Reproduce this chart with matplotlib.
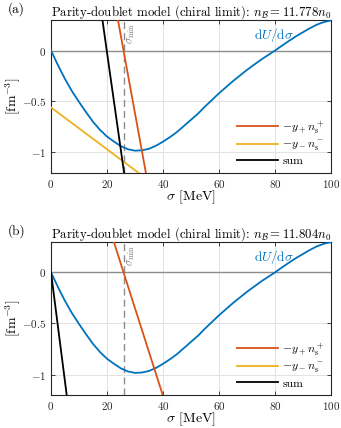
import numpy as np
import matplotlib
matplotlib.use('Agg')
import matplotlib.pyplot as plt

plt.rcParams['font.family'] = 'serif'
plt.rcParams['font.serif'] = ['cmr10']
plt.rcParams['mathtext.fontset'] = 'cm'
plt.rcParams['axes.formatter.use_mathtext'] = True
plt.rcParams['font.size'] = 9

# dU/dsigma, same curve in both panels
sigma_u = [0, 2.5, 5, 7.5, 10, 12.5, 15, 17.5, 20, 22.5, 25, 27.5, 30, 32.5, 35, 37.5,
           40, 42.5, 45, 47.5, 50, 52.5, 55, 57.5, 60, 62.5, 65, 67.5, 70, 72.5, 75,
           77.5, 80, 82.5, 85, 87.5, 90, 92.5, 95, 97.5, 100]
dU = [0, -0.145, -0.28, -0.40, -0.505, -0.605, -0.70, -0.78, -0.845, -0.895, -0.94,
      -0.97, -0.984, -0.98, -0.965, -0.935, -0.895, -0.85, -0.80, -0.74, -0.68,
      -0.62, -0.55, -0.485, -0.42, -0.36, -0.30, -0.245, -0.19, -0.14, -0.09,
      -0.045, 0.0, 0.048, 0.095, 0.14, 0.18, 0.22, 0.255, 0.28, 0.295]

# panel (a), nB = 11.778 n0
sig_plus_a = [22.0, 25.9, 36.0]
yplus_a = [0.59, 0.0, -1.52]
sig_minus_a = [0.0, 30.7, 35.0]
yminus_a = [-0.559, -1.19, -1.28]
sig_sum_a = [17.0, 19.9, 28.0]
sum_a = [0.57, 0.0, -1.57]

# panel (b), nB = 11.804 n0
sig_plus_b = [20.0, 25.9, 42.0]
yplus_b = [0.51, 0.0, -1.38]
sig_minus_b = [0.0, 100.0]
yminus_b = [-2.22, -15.0]
sig_sum_b = [0.0, 5.6, 7.0]
sum_b = [0.0, -1.2, -1.5]

sigma_min = 26.0
titles = [r'Parity-doublet model (chiral limit): $n_\mathcal{B} = 11.778n_0$',
          r'Parity-doublet model (chiral limit): $n_\mathcal{B} = 11.804n_0$']
tags = ['(a)', '(b)']
tag_y = [0.978, 0.461]

blue = '#0072BD'
orange = '#D95319'
yellow = '#EDB120'

fig = plt.figure(figsize=(3.41, 4.28), dpi=100)
positions = [[0.1496, 0.5965, 0.8211, 0.3568], [0.1496, 0.0771, 0.8211, 0.3582]]
panels = [(sig_plus_a, yplus_a, sig_minus_a, yminus_a, sig_sum_a, sum_a),
          (sig_plus_b, yplus_b, sig_minus_b, yminus_b, sig_sum_b, sum_b)]

for i, pos in enumerate(positions):
    ax = fig.add_axes(pos)
    sp, yp, sm, ym, ss, ys = panels[i]
    ax.axhline(0, color='#8c8c8c', lw=1.0, zorder=1)
    ax.axvline(sigma_min, color='#8c8c8c', lw=1.0, ls=(0, (5, 3)), zorder=1)
    ax.text(sigma_min + 0.6, 0.27, r'$\sigma_\mathrm{min}$', rotation=90, color='#7f7f7f',
            ha='left', va='top', fontsize=8)
    ax.plot(sigma_u, dU, color=blue, lw=1.3, zorder=3)
    l1, = ax.plot(sp, yp, color=orange, lw=1.3, zorder=3)
    l2, = ax.plot(sm, ym, color=yellow, lw=1.3, zorder=3)
    l3, = ax.plot(ss, ys, color='black', lw=1.3, zorder=4)
    ax.text(79.6, 0.15, r'$\mathrm{d}U/\mathrm{d}\sigma$', color=blue, ha='center', va='center',
            fontsize=9.5)
    ax.set_xlim(0, 100)
    ax.set_ylim(-1.2, 0.3)
    ax.set_xticks([0, 20, 40, 60, 80, 100])
    ax.set_yticks([-1, -0.5, 0])
    ax.set_yticklabels([r'$-1$', r'$-0.5$', r'$0$'])
    ax.grid(True, color='#e3e3e3', lw=0.7)
    ax.set_axisbelow(True)
    ax.tick_params(direction='in', top=True, right=True, length=3, width=0.6, pad=3.5,
                   color='#262626', labelcolor='#262626', labelsize=8)
    for s in ax.spines.values():
        s.set_linewidth(0.8)
        s.set_color('#262626')
    ax.set_xlabel(r'$\sigma$ [MeV]', fontsize=10)
    ax.xaxis.set_label_coords(0.5, -0.1)
    ax.set_ylabel(r'[fm$^{-3}$]', fontsize=10)
    ax.yaxis.set_label_coords(-0.1, 0.5)
    ax.set_title(titles[i], fontsize=9.2, pad=3)
    ax.legend([l1, l2, l3], [r'$-y_+ n_\mathrm{s}^+$', r'$-y_- n_\mathrm{s}^-$', 'sum'],
              loc='lower right', frameon=False, handlelength=3.4, handletextpad=0.4,
              labelspacing=0.25, borderaxespad=0.15, fontsize=8.5)
    fig.text(0.023, tag_y[i], tags[i], va='center', fontsize=9.5)

fig.savefig('out.png', dpi=100)
